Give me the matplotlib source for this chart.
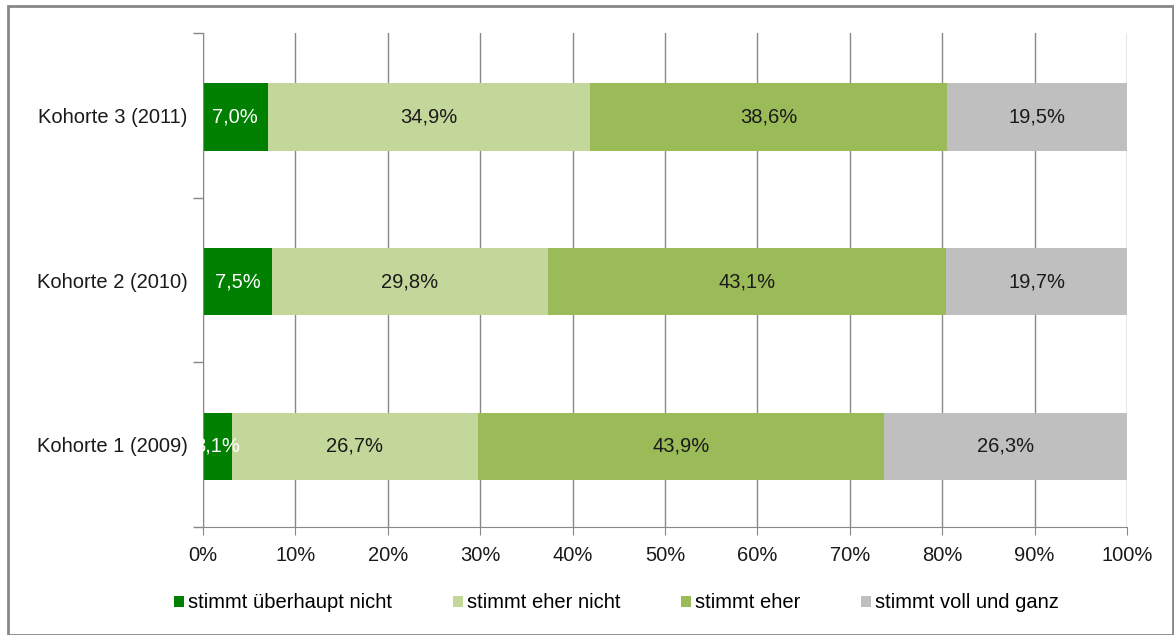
import numpy as np
import matplotlib.pyplot as plt
from matplotlib.patches import Rectangle
from matplotlib.ticker import PercentFormatter

plt.rcParams['font.family'] = ['Liberation Sans', 'DejaVu Sans']

# data (bottom to top)
cohorts = ["Kohorte 1 (2009)", "Kohorte 2 (2010)", "Kohorte 3 (2011)"]
categories = ["stimmt überhaupt nicht", "stimmt eher nicht", "stimmt eher", "stimmt voll und ganz"]
ueberhaupt_nicht = [3.1, 7.5, 7.0]
eher_nicht = [26.7, 29.8, 34.9]
eher = [43.9, 43.1, 38.6]
voll_und_ganz = [26.3, 19.7, 19.5]

series = [ueberhaupt_nicht, eher_nicht, eher, voll_und_ganz]
colors = ["#008000", "#C4D79B", "#9BBB59", "#BFBFBF"]
text_colors = ["white", "#1a1a1a", "#1a1a1a", "#1a1a1a"]
fs = 14.5

fig = plt.figure(figsize=(11.74, 6.35), dpi=100)
ax = fig.add_axes([203/1174, 1 - 527/635, 924/1174, 494/635])

y = np.arange(len(cohorts))
left = np.zeros(len(cohorts))
for vals, col, tcol, name in zip(series, colors, text_colors, categories):
    vals = np.array(vals)
    ax.barh(y - 0.01, vals, left=left, height=0.41, color=col, label=name, zorder=2)
    for yi, l, v in zip(y, left, vals):
        ax.text(l + v / 2, yi - 0.01, f"{v:.1f}%".replace(".", ","), ha="center", va="center",
                color=tcol, fontsize=fs, zorder=3)
    left += vals

ax.set_xlim(0, 100)
ax.set_ylim(-0.5, 2.5)
ax.set_xticks(np.arange(0, 101, 10))
ax.xaxis.set_major_formatter(PercentFormatter(decimals=0))
ax.set_yticks(y)
ax.set_yticklabels(cohorts)
ax.set_yticks(np.arange(-0.5, 2.6, 1), minor=True)
ax.tick_params(axis="y", which="major", length=0, pad=11, labelsize=fs, colors="#1a1a1a")
ax.tick_params(axis="y", which="minor", length=7, color="#888888", width=1)
ax.tick_params(axis="x", length=6, labelsize=fs, pad=8, colors="#1a1a1a")
ax.tick_params(axis="x", color="#888888")
ax.xaxis.grid(True, color="#888888", linewidth=1, zorder=0)
ax.set_axisbelow(True)

for s in ["top", "right"]:
    ax.spines[s].set_visible(False)
for s in ["left", "bottom"]:
    ax.spines[s].set_color("#888888")

fig.legend(loc="center", bbox_to_anchor=(0.525, 1 - 603/635), ncol=4, frameon=False,
           fontsize=fs, handlelength=0.5, handleheight=0.5, handletextpad=0.2,
           columnspacing=3.0)

fig.patches.append(Rectangle((8/1174, 0), 1 - 9/1174, 1 - 6/635, transform=fig.transFigure,
                             fill=False, edgecolor="#888888", linewidth=2))

fig.savefig("out.png", dpi=100)
